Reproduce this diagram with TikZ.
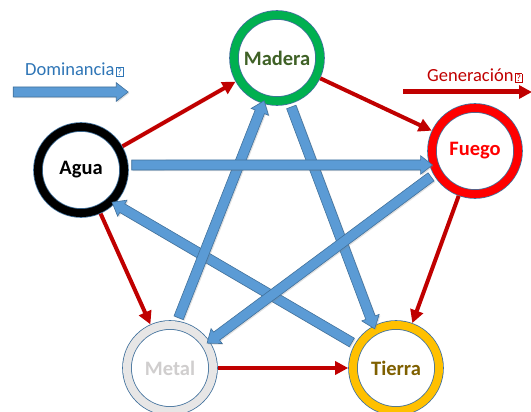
\documentclass[tikz,border=0pt]{standalone}
\usepackage{fontspec}
\setmainfont{Carlito}
\usepackage{xcolor}
\usetikzlibrary{calc,arrows.meta,shapes.arrows,shadows}

\definecolor{ringline}{HTML}{41719C}
\definecolor{domfill}{HTML}{5B9BD5}
\definecolor{domtext}{HTML}{2E75B6}
\definecolor{genred}{HTML}{C00000}
\definecolor{woodgreen}{HTML}{00B050}
\definecolor{woodtext}{HTML}{3F6126}
\definecolor{metalgray}{HTML}{E7E6E6}
\definecolor{metaltext}{HTML}{D0CECE}
\definecolor{earthgold}{HTML}{FFC000}
\definecolor{earthtext}{HTML}{7F6000}

% small box for the glyph the font could not show
\newcommand{\qbox}{\kern1.5pt\raisebox{0.3pt}{\setlength{\fboxsep}{0.8pt}\setlength{\fboxrule}{0.6pt}\fbox{\fontsize{10}{10}\selectfont ?}}}

% block arrow from #1 to #2, named #3
\newcommand{\domarrow}[3]{%
  \path let \p1=(#1), \p2=(#2), \n1={atan2(\y2-\y1,\x2-\x1)}, \n2={veclen(\x2-\x1,\y2-\y1)} in
    node[dom, minimum height=\n2, rotate=\n1] (#3) at ($(#1)!0.5!(#2)$) {};}

\tikzset{
  phase/.style={circle, minimum size=86pt, inner sep=0pt, outer sep=4.8pt, fill=white,
    draw=ringline, line width=0.8pt, double distance=8pt,
    font=\bfseries\fontsize{20.5}{24}\selectfont},
  dom/.style={single arrow, inner xsep=0pt, inner ysep=4.7pt, single arrow head extend=4.3pt,
    single arrow tip angle=76, fill=domfill, draw=ringline, line width=0.6pt,
    drop shadow={shadow xshift=1.2pt, shadow yshift=-1.2pt, opacity=0.25}},
  gen/.style={genred, line width=4pt, -{Triangle[length=13pt,width=13pt]}},
  legend/.style={font=\fontsize{18.5}{22}\selectfont, inner sep=0pt},
}

\begin{document}
\begin{tikzpicture}[x=1pt,y=-1pt]
\useasboundingbox (0,0) rectangle (531,412);

\node[phase, double=woodgreen, text=woodtext] (madera) at (277,58) {Madera};
\node[phase, double=black, text=black] (agua) at (81,170) {Agua};
\node[phase, double=red, text=red] (fuego) at (475,151) {Fuego};
\node[phase, double=metalgray, text=metaltext] (metal) at (170,368) {Metal};
\node[phase, double=earthgold, text=earthtext] (tierra) at (396,368) {Tierra};

% generacion
\draw[gen] (agua) -- (madera);
\draw[gen] (madera) -- (fuego);
\draw[gen] (fuego) -- (tierra);
\draw[gen] (metal) -- (tierra);
\draw[gen] (agua) -- (metal);

% dominancia
\domarrow{tierra.150}{agua.-45}{ta}
\domarrow{madera.-74}{tierra.118}{mt}
\domarrow{metal.81}{madera.-107}{mm}
\domarrow{fuego.-150}{metal.34}{fm}
\domarrow{agua.6}{fuego.-163}{af}

% leyenda
\node[legend, text=domtext, anchor=west] (domlabel) at (25,70) {Dominancia\qbox};
\coordinate (domA) at (10,92);
\coordinate (domB) at (125,92);
\domarrow{domA}{domB}{domkey}
\node[legend, text=genred, anchor=west] (genlabel) at (427,76) {Generación\qbox};
\coordinate (genA) at (403,92);
\coordinate (genB) at (532,92);
\draw[gen, line width=5pt] (genA) -- (genB);
\end{tikzpicture}
\end{document}
